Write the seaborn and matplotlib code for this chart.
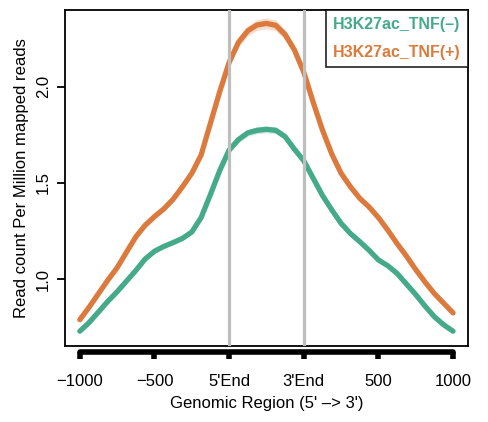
import numpy as np
import pandas as pd
import matplotlib
matplotlib.use("Agg")
import matplotlib.pyplot as plt
import seaborn as sns

# metagene profile, positions in plot units (0 = -1000, 2 = 5'End, 3 = 3'End, 5 = 1000)
positions = [0.0, 0.125, 0.25, 0.375, 0.5, 0.625, 0.75, 0.875,
             1.0, 1.125, 1.25, 1.375, 1.5, 1.625, 1.75, 1.875,
             2.0, 2.125, 2.25, 2.375, 2.5, 2.625, 2.75, 2.875,
             3.0, 3.125, 3.25, 3.375, 3.5, 3.625, 3.75, 3.875,
             4.0, 4.125, 4.25, 4.375, 4.5, 4.625, 4.75, 4.875, 5.0]
tnf_minus = [0.73, 0.775, 0.83, 0.885, 0.935, 0.99, 1.045, 1.105,
             1.145, 1.17, 1.19, 1.212, 1.245, 1.32, 1.44, 1.565,
             1.67, 1.725, 1.76, 1.773, 1.778, 1.773, 1.74, 1.675,
             1.615, 1.525, 1.435, 1.36, 1.29, 1.237, 1.195, 1.15,
             1.10, 1.07, 1.03, 0.975, 0.92, 0.86, 0.805, 0.763, 0.73]
tnf_plus = [0.79, 0.855, 0.925, 0.995, 1.06, 1.14, 1.22, 1.28,
            1.325, 1.365, 1.415, 1.48, 1.55, 1.645, 1.81, 1.975,
            2.125, 2.23, 2.29, 2.32, 2.328, 2.318, 2.27, 2.19,
            2.075, 1.92, 1.775, 1.65, 1.55, 1.48, 1.42, 1.375,
            1.32, 1.255, 1.185, 1.12, 1.05, 0.985, 0.925, 0.875, 0.825]
se_minus = [0.008] * 12 + [0.01, 0.012, 0.013, 0.014, 0.015, 0.016, 0.017, 0.018,
            0.018, 0.018, 0.017, 0.016, 0.015, 0.013, 0.012] + [0.008] * 14
se_plus = [0.01] * 12 + [0.014, 0.016, 0.018, 0.02, 0.022, 0.024, 0.026, 0.028,
           0.028, 0.028, 0.026, 0.024, 0.022, 0.018, 0.016] + [0.01] * 14
labels = ["H3K27ac_TNF(\u2013)", "H3K27ac_TNF(+)"]
colors = ["#45AA89", "#DC7A3D"]
tick_pos = [0, 1, 2, 3, 4, 5]
tick_lab = ["\u22121000", "\u2212500", "5'End", "3'End", "500", "1000"]
region_bounds = [2, 3]

sns.set_theme(style="white")
plt.rcParams["font.family"] = ["Liberation Sans", "DejaVu Sans"]

df = pd.DataFrame({
    "pos": positions * 2,
    "value": tnf_minus + tnf_plus,
    "sample": [labels[0]] * len(positions) + [labels[1]] * len(positions),
})

fig = plt.figure(figsize=(4.88, 4.22), dpi=100)
ax = fig.add_axes([0.133, 0.180, 0.826, 0.796])

# standard error bands
for vals, se, c in [(tnf_minus, se_minus, colors[0]), (tnf_plus, se_plus, colors[1])]:
    v = np.array(vals)
    s = np.array(se)
    ax.fill_between(positions, v - s, v + s, color=c, alpha=0.25, lw=0, zorder=1)

sns.lineplot(data=df, x="pos", y="value", hue="sample", palette=colors,
             linewidth=3.8, ax=ax, legend=False, zorder=2,
             solid_capstyle="round", solid_joinstyle="round")

for b in region_bounds:
    ax.axvline(b, color="#BEBEBE", lw=2.3, zorder=3)

ax.set_xlim(-0.2, 5.2)
ax.set_ylim(0.653, 2.397)
ax.set_xlabel("")

# y axis, R style
ax.set_yticks([1.0, 1.5, 2.0])
ax.set_yticklabels(["1.0", "1.5", "2.0"], rotation=90, va="center")
ax.tick_params(axis="y", direction="out", length=6, width=1.3, left=True,
               labelsize=12, pad=4, color="black", labelcolor="black")
ax.set_ylabel("Read count Per Million mapped reads", fontsize=12, color="black", labelpad=5)

for sp in ax.spines.values():
    sp.set_color("black")
    sp.set_linewidth(1.3)

# bottom axis drawn as a separate thick line below the box
ax.set_xticks([])
sec = ax.secondary_xaxis(-0.018)
sec.set_xticks(tick_pos)
sec.set_xticklabels(tick_lab)
sec.spines["bottom"].set_bounds(0, 5)
sec.spines["bottom"].set_linewidth(4)
sec.spines["bottom"].set_color("black")
sec.spines["bottom"].set_capstyle("round")
sec.tick_params(axis="x", direction="out", length=5, width=4, labelsize=12,
                pad=11, color="black", labelcolor="black")
sec.set_xlabel("Genomic Region (5' \u2013> 3')", fontsize=12, color="black", labelpad=5)

# legend with coloured text only
handles = [plt.Line2D([], [], color=c, lw=0) for c in colors]
leg = ax.legend(handles, labels, loc="upper right", borderaxespad=0,
                handlelength=0, handletextpad=0, frameon=True, fancybox=False,
                edgecolor="black", prop={"weight": "bold", "size": 11.5},
                borderpad=0.45, labelspacing=0.8)
leg.get_frame().set_linewidth(1.3)
for txt, c in zip(leg.get_texts(), colors):
    txt.set_color(c)

fig.savefig("out.png", dpi=100)
